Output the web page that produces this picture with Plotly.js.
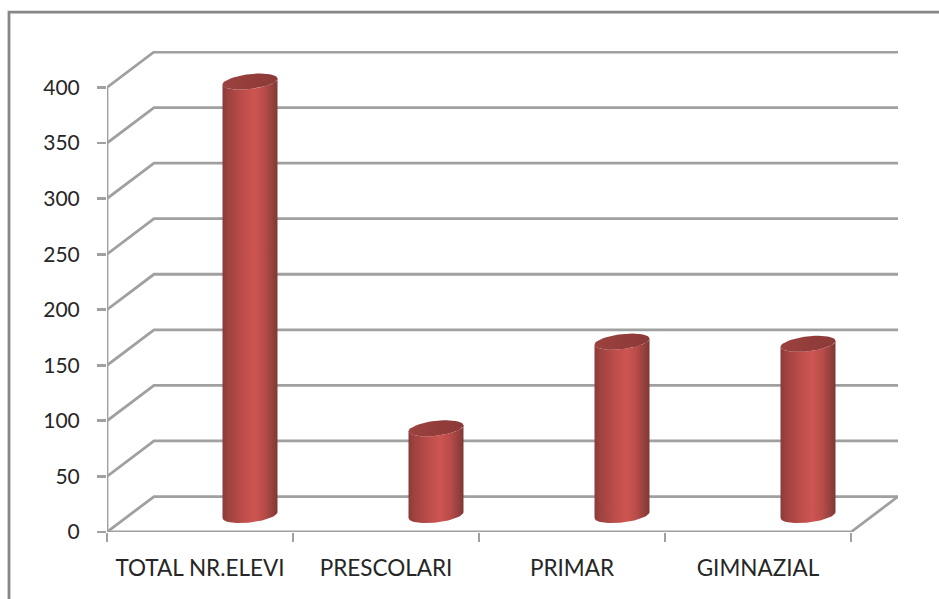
<!DOCTYPE html>
<html>
<head>
<meta charset="utf-8">
<script src="https://cdn.plot.ly/plotly-3.0.1.min.js"></script>
<style>html,body{margin:0;padding:0;background:#fff;overflow:hidden}#chart{width:939px;height:599px}</style>
</head>
<body>
<div id="chart"></div>
<script>
const categories = ["TOTAL NR.ELEVI", "PRESCOLARI", "PRIMAR", "GIMNAZIAL"];
const values = [390, 78, 156, 154];
const gridValues = [0, 50, 100, 150, 200, 250, 300, 350, 400];

const W = 939, H = 599;
const left = 107, right = 898, top_ = 51, bottom = 532.5;
const pxPerCat = 186, pxPerUnit = 1.1125;
const depthX = 47 / pxPerCat, depthY = 35.5 / pxPerUnit;
const xMin = -0.5, xMax = xMin + (right - left) / pxPerCat;
const yMax = (bottom - top_) / pxPerUnit;
const gridColor = "#a0a0a0", gridWidth = 2.8;

const positions = categories.map((c, i) => i);
const traces = [];
function line(xs, ys) {
  traces.push({type: "scatter", mode: "lines", x: xs, y: ys, cliponaxis: false, hoverinfo: "skip",
    showlegend: false, line: {color: gridColor, width: gridWidth}});
}
gridValues.forEach(v => {
  line([xMin, xMin + depthX, 3.5 + depthX], [v, v + depthY, v + depthY]);
});
line([xMin, xMin], [0, 400]);
line([xMin, 3.5, 3.5 + depthX], [0, 0, depthY]);

const barShiftX = 50 / pxPerCat, baseY = 17 / pxPerUnit;
const ra = 27.5 / pxPerCat, rb = 7.5 / pxPerUnit, rs = 3 / pxPerUnit;
function ell(cx, cy, from, to) {
  const xs = [], ys = [];
  for (let k = 0; k <= 48; k++) {
    const t = from + (to - from) * k / 48;
    xs.push(cx + ra * Math.cos(t));
    ys.push(cy + rb * Math.sin(t) + rs * Math.cos(t));
  }
  return [xs, ys];
}
const bodyScale = [[0, "#8a3b39"], [0.1, "#9e423f"], [0.35, "#bb4c49"], [0.58, "#ce5551"], [0.76, "#b94c49"], [0.9, "#96413e"], [1, "#803734"]];
const capScale = [[0, "#9c4240"], [0.5, "#933d3b"], [1, "#8b3a38"]];
positions.forEach((p, i) => {
  const cx = p + barShiftX, v = values[i];
  const [bx, by] = ell(cx, baseY, Math.PI, 2 * Math.PI);
  const [tx, ty] = ell(cx, baseY + v, 0, -Math.PI);
  traces.push({type: "scatter", mode: "lines", x: bx.concat(tx), y: by.concat(ty), fill: "toself", cliponaxis: false,
    fillgradient: {type: "horizontal", colorscale: bodyScale}, line: {width: 0, color: "rgba(0,0,0,0)"},
    hoverinfo: "skip", showlegend: false});
  const [cxs, cys] = ell(cx, baseY + v, 0, 2 * Math.PI);
  traces.push({type: "scatter", mode: "lines", x: cxs, y: cys, fill: "toself", cliponaxis: false,
    fillgradient: {type: "horizontal", colorscale: capScale}, line: {width: 0, color: "rgba(0,0,0,0)"},
    hoverinfo: "skip", showlegend: false});
});

const tickFont = {family: "Lato, Carlito, sans-serif", size: 21, color: "#262626"};
const layout = {
  width: W, height: H, autosize: false,
  margin: {l: left, r: W - right, t: top_, b: H - bottom, pad: 0},
  paper_bgcolor: "#fff", plot_bgcolor: "#fff", showlegend: false,
  xaxis: {
    type: "linear", range: [xMin, xMax], showgrid: false, zeroline: false, showline: false,
    tickmode: "array", tickvals: positions, ticktext: categories, ticks: "", ticklen: 9,
    tickfont: Object.assign({}, tickFont, {size: 22.5}), ticklabelstandoff: 20,
    minor: {tickmode: "array", tickvals: [-0.5, 0.5, 1.5, 2.5, 3.5], ticks: "outside", ticklen: 9, tickwidth: 2.6, tickcolor: gridColor, showgrid: false}
  },
  yaxis: {
    type: "linear", range: [0, yMax], showgrid: false, zeroline: false, showline: false,
    tickmode: "array", tickvals: gridValues, ticks: "outside", ticklen: 9, tickwidth: 2.8, tickcolor: gridColor,
    tickfont: tickFont, ticklabelstandoff: 13
  },
  shapes: [{
    type: "rect", xref: "paper", yref: "paper", layer: "below",
    x0: (9 - left) / (right - left), x1: (W + 10 - left) / (right - left),
    y0: (bottom - (H + 10)) / (bottom - top_), y1: (bottom - 12) / (bottom - top_),
    line: {color: "#868686", width: 2.8}
  }]
};
Plotly.newPlot("chart", traces, layout, {displayModeBar: false, staticPlot: true});
</script>
</body>
</html>
